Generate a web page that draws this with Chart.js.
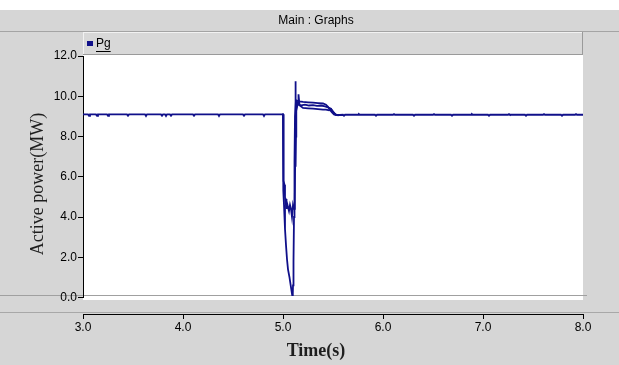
<!DOCTYPE html>
<html>
<head>
<meta charset="utf-8">
<script src="https://cdn.jsdelivr.net/npm/chart.js@4.4.1/dist/chart.umd.min.js"></script>
<style>
  html, body { margin: 0; padding: 0; background: #ffffff; }
  canvas { display: block; }
</style>
</head>
<body>
<canvas id="c" width="619" height="365"></canvas>
<script>
// Texts
const panelTitle = 'Main : Graphs';
const seriesName = 'Pg';
const yAxisTitle = 'Active power(MW)';
const xAxisTitle = 'Time(s)';

// Axis ticks
const xTicks = [3, 4, 5, 6, 7, 8];
const yTicks = [0, 2, 4, 6, 8, 10, 12];

// Trace 1: full record of Pg (s, MW)
const timeA = [
  3.00, 3.05, 3.06, 3.07, 3.13, 3.14, 3.15, 3.24, 3.25, 3.26, 3.44, 3.45, 3.46,
  3.62, 3.63, 3.64, 3.78, 3.79, 3.80, 3.82, 3.83, 3.84, 3.87, 3.88, 3.89,
  4.10, 4.11, 4.12, 4.35, 4.36, 4.37, 4.60, 4.61, 4.62, 4.80, 4.81, 4.82, 4.97,
  5.000, 5.002, 5.004, 5.010, 5.020, 5.030, 5.040, 5.050, 5.065, 5.080, 5.092,
  5.098, 5.100, 5.105, 5.110, 5.115, 5.120, 5.130, 5.160, 5.200, 5.250, 5.300,
  5.350, 5.400, 5.430, 5.450, 5.470, 5.490, 5.510, 5.530,
  5.60, 5.61, 5.62, 5.75, 5.76, 5.77, 5.92, 5.93, 5.94, 6.10, 6.11, 6.12,
  6.30, 6.31, 6.32, 6.50, 6.51, 6.52, 6.68, 6.69, 6.70, 6.88, 6.89, 6.90,
  7.05, 7.06, 7.07, 7.25, 7.26, 7.27, 7.42, 7.43, 7.44, 7.60, 7.61, 7.62,
  7.78, 7.79, 7.80, 7.92, 7.93, 7.94, 8.00
];
const pgA = [
  9.10, 9.10, 9.02, 9.10, 9.10, 9.03, 9.10, 9.10, 9.02, 9.10, 9.10, 9.03, 9.10,
  9.10, 9.02, 9.10, 9.10, 9.03, 9.10, 9.10, 9.02, 9.10, 9.10, 9.03, 9.10,
  9.10, 9.03, 9.10, 9.10, 9.02, 9.10, 9.10, 9.03, 9.10, 9.10, 9.02, 9.10, 9.10,
  9.10, 7.50, 5.30, 4.60, 3.40, 2.60, 1.90, 1.40, 1.00, 0.50, 0.12,
  0.20, 0.60, 1.80, 4.00, 6.80, 9.00, 9.80, 9.75, 9.72, 9.70, 9.68,
  9.66, 9.64, 9.58, 9.48, 9.32, 9.20, 9.10, 9.06,
  9.08, 9.03, 9.08, 9.08, 9.11, 9.08, 9.08, 9.03, 9.08, 9.08, 9.11, 9.08,
  9.08, 9.03, 9.08, 9.08, 9.11, 9.08, 9.08, 9.03, 9.08, 9.08, 9.11, 9.08,
  9.08, 9.03, 9.08, 9.08, 9.11, 9.08, 9.08, 9.03, 9.08, 9.08, 9.11, 9.08,
  9.08, 9.03, 9.08, 9.08, 9.11, 9.08, 9.08
];

// Trace 2: second Pg run over the disturbance (s, MW)
const timeB = [
  4.990, 5.000, 5.003, 5.008, 5.015, 5.020, 5.025, 5.030, 5.035, 5.040, 5.050,
  5.060, 5.070, 5.080, 5.090, 5.100, 5.110, 5.118, 5.122, 5.125, 5.127, 5.130,
  5.133, 5.140, 5.150, 5.155, 5.165, 5.200, 5.250, 5.300, 5.350, 5.400, 5.430,
  5.460, 5.480, 5.500, 5.520, 5.550, 5.570
];
const pgB = [
  9.10, 9.10, 7.20, 5.80, 5.60, 5.00, 4.60, 4.90, 4.40, 4.70, 4.50,
  4.30, 4.60, 4.40, 4.00, 4.60, 4.40, 4.80, 7.00, 10.75, 6.50, 8.00,
  9.80, 9.45, 9.70, 10.10, 9.55, 9.42, 9.40, 9.38, 9.36, 9.34, 9.34,
  9.30, 9.36, 9.24, 9.10, 9.05, 9.08
];

// Trace 3: third Pg run through the recovery plateau (s, MW)
const timeC = [5.135, 5.150, 5.180, 5.220, 5.260, 5.300, 5.340, 5.380, 5.420, 5.450, 5.480, 5.500, 5.530, 5.560];
const pgC = [9.50, 9.60, 9.55, 9.58, 9.54, 9.56, 9.52, 9.54, 9.50, 9.45, 9.38, 9.22, 9.08, 9.06];

const lineColor = '#10108a';
const toPoints = (xs, ys) => xs.map((x, i) => ({ x: x, y: ys[i] }));

const sans = "'Liberation Sans', Arial, sans-serif";
const serif = "'Liberation Serif', 'DejaVu Serif', serif";

// Window chrome: grey panel, header bar, legend strip and white plot field
const chrome = {
  id: 'chrome',
  beforeDraw(chart) {
    const { ctx, width, height, chartArea } = chart;
    ctx.save();
    ctx.fillStyle = '#ffffff';
    ctx.fillRect(0, 0, width, height);
    ctx.fillStyle = '#d6d6d6';
    ctx.fillRect(0, 10, width, height - 10);
    // header bar caption and underline
    ctx.fillStyle = '#000000';
    ctx.font = '12px ' + sans;
    ctx.textAlign = 'center';
    ctx.textBaseline = 'middle';
    ctx.fillText(panelTitle, 316, 20.5);
    ctx.fillStyle = '#a4a4a4';
    ctx.fillRect(0, 31, width, 1);
    // legend strip
    const l = chartArea.left, r = chartArea.right;
    ctx.fillStyle = '#d8d8d8';
    ctx.fillRect(l, 32, r - l, 23);
    ctx.fillStyle = '#f2f2f2';
    ctx.fillRect(l, 32, r - l, 1);
    ctx.fillRect(l, 32, 1, 23);
    ctx.fillStyle = '#9a9a9a';
    ctx.fillRect(r - 1, 32, 1, 23);
    ctx.fillRect(l, 54, r - l, 1);
    // plot field
    ctx.fillStyle = '#ffffff';
    ctx.fillRect(l, 55, r - l, 300 - 55);
    // thin rules
    ctx.fillStyle = '#a0a0a0';
    ctx.fillRect(0, 295, r + 4, 1);
    ctx.fillStyle = '#a8a8a8';
    ctx.fillRect(0, 312, width, 1);
    ctx.restore();
  },
  afterDraw(chart) {
    const { ctx, chartArea } = chart;
    const ds = chart.data.datasets[0];
    ctx.save();
    // legend item
    ctx.fillStyle = ds.borderColor;
    ctx.fillRect(chartArea.left + 4, 41, 6, 5);
    ctx.font = '12px ' + sans;
    ctx.fillStyle = '#000000';
    ctx.textBaseline = 'middle';
    ctx.textAlign = 'left';
    const tx = chartArea.left + 13;
    ctx.fillText(ds.label, tx, 44);
    const w = ctx.measureText(ds.label).width;
    ctx.fillRect(tx, 51, w, 1);
    // axis titles
    ctx.fillStyle = '#1e1e1e';
    ctx.font = '18px ' + serif;
    ctx.textAlign = 'center';
    ctx.translate(38, 184);
    ctx.rotate(-Math.PI / 2);
    ctx.fillText(yAxisTitle, 0, 0);
    ctx.setTransform(1, 0, 0, 1, 0, 0);
    ctx.font = 'bold 18px ' + serif;
    ctx.fillText(xAxisTitle, 316, 351);
    ctx.restore();
  }
};

const traceStyle = { borderColor: lineColor, backgroundColor: lineColor, borderWidth: 1.8, pointRadius: 0, tension: 0, fill: false };

new Chart(document.getElementById('c'), {
  type: 'line',
  data: {
    datasets: [
      Object.assign({ label: seriesName, data: toPoints(timeA, pgA) }, traceStyle),
      Object.assign({ label: seriesName, data: toPoints(timeB, pgB) }, traceStyle),
      Object.assign({ label: seriesName, data: toPoints(timeC, pgC) }, traceStyle)
    ]
  },
  options: {
    responsive: false,
    devicePixelRatio: 1,
    animation: false,
    layout: { padding: { top: 56, left: 0, right: 36, bottom: 67.5 } },
    plugins: {
      legend: { display: false },
      tooltip: { enabled: false },
      title: { display: false }
    },
    scales: {
      x: {
        type: 'linear',
        min: 3, max: 8,
        position: { y: -0.82 },
        afterBuildTicks: (s) => { s.ticks = xTicks.map(v => ({ value: v })); },
        ticks: {
          color: '#000000',
          font: { family: sans, size: 12 },
          padding: 2,
          maxRotation: 0,
          callback: (v) => Number(v).toFixed(1)
        },
        grid: { drawOnChartArea: false, tickLength: 4, color: '#000000' },
        border: { color: '#000000', width: 1 }
      },
      y: {
        type: 'linear',
        min: 0, max: 12,
        position: 'left',
        afterBuildTicks: (s) => { s.ticks = yTicks.map(v => ({ value: v })); },
        afterFit: (s) => { s.width = 83; },
        ticks: {
          color: '#000000',
          font: { family: sans, size: 12 },
          padding: 1,
          callback: (v) => Number(v).toFixed(1)
        },
        grid: { drawOnChartArea: false, tickLength: 5, color: '#000000' },
        border: { color: '#000000', width: 1 }
      }
    }
  },
  plugins: [chrome]
});
</script>
</body>
</html>
